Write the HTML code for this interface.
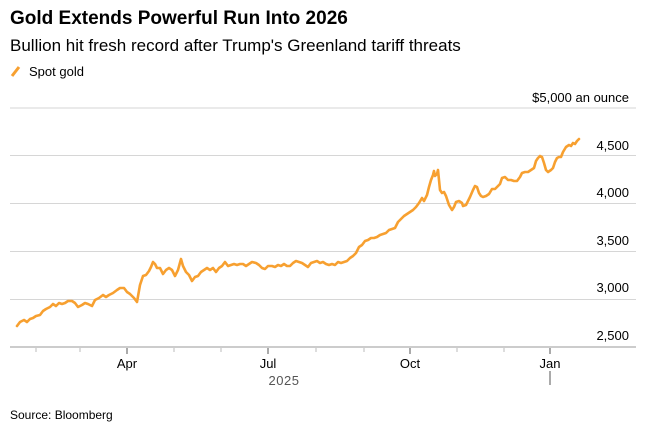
<!DOCTYPE html>
<html><head><meta charset="utf-8"><style>
body{margin:0;background:#fff;width:646px;height:430px;overflow:hidden;font-family:"Liberation Sans",Arial,sans-serif;color:#000}
</style></head><body>
<svg width="646" height="430" xmlns="http://www.w3.org/2000/svg" font-family="Liberation Sans, Arial, sans-serif">
<text x="10" y="24" font-size="19" font-weight="bold">Gold Extends Powerful Run Into 2026</text>
<text x="10" y="51" font-size="17">Bullion hit fresh record after Trump's Greenland tariff threats</text>
<line x1="12" y1="76" x2="19" y2="67" stroke="#f7a030" stroke-width="3"/>
<text x="29" y="76" font-size="13">Spot gold</text>
<text x="629" y="102" font-size="13" text-anchor="end">$5,000 an ounce</text>
<g stroke="#d6d6d6" stroke-width="1">
<line x1="10" x2="636" y1="108" y2="108"/>
<line x1="10" x2="636" y1="155.5" y2="155.5"/>
<line x1="10" x2="636" y1="203.5" y2="203.5"/>
<line x1="10" x2="636" y1="251.5" y2="251.5"/>
<line x1="10" x2="636" y1="299.5" y2="299.5"/>
</g>
<line x1="10" x2="636" y1="347" y2="347" stroke="#ccc" stroke-width="2"/>
<g font-size="13" text-anchor="end">
<text x="629" y="150">4,500</text>
<text x="629" y="197">4,000</text>
<text x="629" y="245">3,500</text>
<text x="629" y="292">3,000</text>
<text x="629" y="340">2,500</text>
</g>
<g stroke="#bbb" stroke-width="1">
<line x1="36" x2="36" y1="348" y2="352"/><line x1="80" x2="80" y1="348" y2="352"/>
<line x1="174" x2="174" y1="348" y2="352"/><line x1="221" x2="221" y1="348" y2="352"/>
<line x1="316" x2="316" y1="348" y2="352"/><line x1="364" x2="364" y1="348" y2="352"/>
<line x1="457" x2="457" y1="348" y2="352"/><line x1="504" x2="504" y1="348" y2="352"/>
</g>
<g stroke="#555" stroke-width="1">
<line x1="127" x2="127" y1="348" y2="354"/><line x1="268" x2="268" y1="348" y2="354"/>
<line x1="410" x2="410" y1="348" y2="354"/><line x1="550" x2="550" y1="348" y2="354"/>
<line x1="550" x2="550" y1="371" y2="385"/>
</g>
<g font-size="13" text-anchor="middle">
<text x="127" y="368">Apr</text><text x="268" y="368">Jul</text>
<text x="410" y="368">Oct</text><text x="550" y="368">Jan</text>
<text x="284" y="385" fill="#555" letter-spacing="0.5">2025</text>
</g>
<text x="10" y="419" font-size="12">Source: Bloomberg</text>
<polyline fill="none" stroke="#f7a030" stroke-width="2.6" stroke-linejoin="round" stroke-linecap="round" points="17,326 20,322 24,320 27,322 30,319 33,318 36,316 40,315 43,311 46,309 50,307 53,304 56,306 59,303 62,304 65,303 68,301 72,301 75,303 78,307 82,305 85,303 88,304 92,306 95,300 99,298 103,295 106,297 109,295 113,293 117,290 120,288 124,288 127,292 130,294 134,298 137,302 140,285 143,276 146,275 149,271 151,267 153,262 155,264 157,268 160,268 163,274 166,270 169,268 172,270 175,276 178,270 181,259 183,266 186,272 189,275 192,281 195,277 198,276 201,272 204,270 207,268 210,270 213,268 216,272 219,268 222,266 225,262 228,266 231,265 234,264 237,265 240,264 243,264 246,266 249,264 252,262 256,263 259,265 262,268 265,269 268,266 272,266 275,267 278,265 281,266 284,264 287,266 290,266 293,263 296,261 299,262 302,263 305,265 308,267 311,263 314,262 317,261 320,263 323,262 326,264 329,265 332,264 335,265 338,262 341,263 344,262 347,261 350,258 353,256 356,253 359,247 362,245 365,241 368,240 371,238 374,238 377,237 380,235 383,234 386,233 389,230 392,229 395,228 398,222 401,219 404,216 407,214 410,212 413,210 416,207 419,203 422,198 424,201 427,195 429,187 431,180 433,175 434,171 435,176 437,174 438,170 440,190 442,193 444,192 446,196 449,205 452,210 454,207 456,202 459,201 462,203 463,206 466,205 468,201 470,197 473,190 475,186 477,187 479,193 481,196 483,197 486,196 489,194 492,189 495,189 498,186 500,184 502,178 505,177 508,180 511,180 514,181 517,181 520,177 522,173 525,172 528,172 531,170 534,168 536,161 538,158 540,156 542,157 544,163 546,170 548,172 551,170 553,168 555,162 557,158 559,157 561,157 563,152 566,147 569,145 571,146 573,143 575,144 577,141 579,139"/>
</svg>
</body></html>
